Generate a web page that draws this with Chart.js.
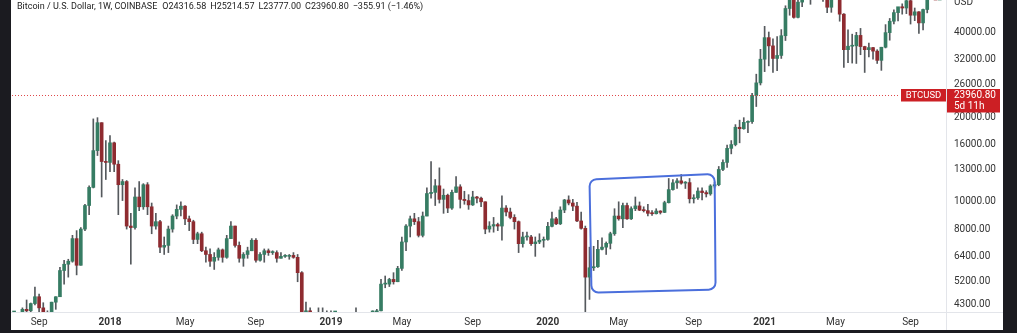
<!DOCTYPE html>
<html>
<head>
<meta charset="utf-8">
<title>BTCUSD 1W</title>
<script src="https://cdn.jsdelivr.net/npm/chart.js@4.4.1/dist/chart.umd.min.js"></script>
<style>
  html, body { margin: 0; padding: 0; background: #1b1b20; overflow: hidden; }
  #frame { position: absolute; left: 11px; top: 0; width: 992px; height: 330px; background: #fff; }
</style>
</head>
<body>
<div id="frame"><canvas id="btcChart"></canvas></div>
<script>
// weekly candles, Coinbase BTC/USD, first week starts 2017-07-24
const firstWeek = '2017-07-24';

const opens = [
  2750,2750,3400,4150,4100,4350,4600,4200,3700,3650,4400,4600,5700,6000,6150,7400,5950,8000,9700,11250,15200,19100,13900,
  13800,16200,13600,11500,11800,8200,8100,10400,9600,11500,9600,8200,8500,6900,7000,8000,8900,9400,9650,8700,8500,7350,7700,6700,6500,6150,6350,6750,6350,7400,8200,7000,6300,6500,6700,7300,6200,6500,6700,6600,6600,6300,6400,6400,6450,6350,5600,4000,4100,3500,3200,4000,
  3850,4000,3600,3600,3550,3400,3650,3600,3900,3850,3900,4000,4000,4100,5100,5100,5300,5200,5800,7200,8200,8700,8500,7600,8900,10700,10800,11400,10200,10550,9500,10800,11300,10200,10100,9750,10400,10300,10000,8000,8200,8300,8200,9500,9200,8800,8500,7100,7500,7500,7100,7200,7300,
  7350,8180,8700,8350,9350,10150,9900,9650,8550,8050,5400,5830,5880,6780,6900,7120,7700,8900,8700,9700,8700,9450,9670,9340,9300,9100,9070,9270,9170,9930,11050,11680,11870,11650,11700,10250,10330,10920,10780,10670,11380,11500,13030,13800,15480,15970,18400,18180,19150,19270,23850,26450,
  32100,38300,35800,32300,33100,38900,48600,57400,45200,51200,59000,57500,55800,58200,59800,56200,49100,56600,58200,46400,34700,35700,35800,39000,35600,34700,35300,34300,31800,35400,39900,43800,47000,49300,48800,51800,46000,47300,43200,48200,54900,61500,61300,61300
];
const highs = [
  2850,3450,4200,4480,4370,4980,4700,4380,4100,4400,4600,5850,6200,6250,7600,7900,8100,9800,11400,19700,19900,19100,16500,
  17200,16300,14000,12000,11900,9100,11200,11800,11600,11700,9900,9100,8600,7500,8200,9000,9750,9990,9700,8900,8600,7800,7800,6900,6800,6600,6850,6800,7600,8500,8200,7200,6600,6900,7400,7400,6600,6800,6800,6700,6700,6600,6500,6500,6600,6500,5650,4400,4200,3600,4200,4200,
  4100,4100,3800,3650,3600,3700,3700,4200,3900,3950,4050,4100,4150,5300,5450,5350,5600,5900,7500,8300,8900,9100,8800,9200,11200,13900,12000,13200,11100,10650,11000,12300,11500,10900,10600,10900,10450,10400,10000,8500,8800,8400,10500,9700,9500,9000,8550,7800,7800,7600,7500,7700,7500,
  8450,9200,8800,9600,10200,10500,10200,9950,9200,8200,6900,6950,7300,7450,7200,7800,9450,10000,9900,9900,9600,10400,9990,9600,9800,9300,9450,9300,10050,12100,12000,12100,12500,11800,12100,10600,11200,11200,10950,11500,11750,13350,14100,15900,16500,18800,19500,19900,19400,24300,28400,34800,
  42000,40100,37900,38600,40900,49700,58400,57500,52600,61800,60600,58500,60100,61200,64900,57000,57900,59500,59600,46600,40800,39400,40000,41300,35700,36600,35400,34700,35400,42600,44800,48100,49000,50500,52900,52900,48800,47400,48400,56000,62900,67000,63700,64300
];
const lows = [
  2450,2650,3350,3950,3950,4300,4000,2970,3500,3600,4150,4600,5100,5400,6100,5500,5950,7900,9000,11200,14600,10400,12000,
  12800,12800,9000,10100,8000,6000,8000,9300,9400,9000,7700,8000,6600,6500,6600,7800,8700,8900,8300,7900,7100,7100,6650,6100,5900,5750,6200,6100,6300,7400,6900,6100,5900,6300,6700,6100,6150,6100,6450,6500,6100,6300,6350,6250,6300,5200,3600,3700,3300,3200,3200,3600,
  3700,3500,3550,3500,3350,3400,3550,3600,3750,3700,3800,3950,3950,4100,4950,5000,5100,5200,5700,6700,7500,8300,7500,7500,8900,10300,9700,9900,9100,9150,9400,10800,9500,9800,9400,9700,9900,9600,7700,7800,7800,7900,7300,8900,8700,8000,6600,6900,7300,7000,6400,7100,6900,
  7300,8150,8300,8300,9150,9750,9300,8500,8000,3850,4500,5700,5850,6750,6500,6800,7600,8600,8100,8650,8650,9300,9300,9200,8900,8950,9050,9050,9150,9900,11000,11150,11550,11150,9900,9900,10200,10150,10400,10550,11200,11400,12900,13250,14800,15800,16200,18100,17600,19000,21800,26000,
  29000,30400,28800,29200,32300,37400,46000,44900,45000,49300,53600,50300,55300,55500,51500,47000,47100,52800,43800,30000,31200,31100,31000,33300,28800,32700,32100,31000,29300,35200,37500,42800,43900,46400,46600,42800,44000,39600,40800,46900,54000,59500,58000,59500
];
const closes = [
  2750,3400,4150,4100,4350,4600,4200,3700,3650,4400,4600,5700,6000,6150,7400,5950,8000,9700,11250,15200,19100,13900,13800,
  16200,13600,11500,11800,8200,8100,10400,9600,11500,9600,8200,8500,6900,7000,8000,8900,9400,9650,8700,8500,7350,7700,6700,6500,6150,6350,6750,6350,7400,8200,7000,6300,6500,6700,7300,6200,6500,6700,6600,6600,6300,6400,6400,6450,6350,5600,4000,4100,3500,3200,4000,3850,
  4000,3600,3600,3550,3400,3650,3600,3900,3850,3900,4000,4000,4100,5100,5100,5300,5200,5800,7200,8200,8700,8500,7600,8900,10700,10800,11400,10200,10550,9500,10800,11300,10200,10100,9750,10400,10300,10000,8000,8200,8300,8200,9500,9200,8800,8500,7100,7500,7500,7100,7200,7300,7350,
  8180,8700,8350,9350,10150,9900,9650,8550,8050,5400,5830,5880,6780,6900,7120,7700,8900,8700,9700,8700,9450,9670,9340,9300,9100,9070,9270,9170,9930,11050,11680,11870,11650,11700,10250,10330,10920,10780,10670,11380,11500,13030,13800,15480,15970,18400,18180,19150,19270,23850,26450,32100,
  38300,35800,32300,33100,38900,48600,57400,45200,51200,59000,57500,55800,58200,59800,56200,49100,56600,58200,46400,34700,35700,35800,39000,35600,34700,35300,34300,31800,35400,39900,43800,47000,49300,48800,51800,46000,47300,43200,48200,54900,61500,61300,61300,63300
];

// time axis labels (first weekly bar of the month)
const xTickWeeks = ['2017-09-04','2018-01-01','2018-05-07','2018-09-03','2019-01-07','2019-05-06','2019-09-02','2020-01-06','2020-05-04','2020-09-07','2021-01-04','2021-05-03','2021-09-06'];
const xTickText  = ['Sep','2018','May','Sep','2019','May','Sep','2020','May','Sep','2021','May','Sep'];

// price axis labels
const yTicks = [4300, 5200, 6400, 8000, 10000, 13000, 16000, 20000, 26000, 32000, 40000];
const yMin = 4060, yMax = 52100;

// header + last price
const symbolTitle = 'Bitcoin / U.S. Dollar, 1W, COINBASE';
const headerValues = ['O24316.58', 'H25214.57', 'L23777.00', 'C23960.80', '\u2212355.91 (\u22121.46%)'];
const lastPrice = 23960.80;
const countdown = '5d 11h';

// hand drawn box (weeks, prices at corners: top-left, top-right, bottom-right, bottom-left)
const boxWeeks = ['2020-03-16', '2020-10-12'];
const boxPrices = [12000, 12550, 4880, 4760];

const upColor = '#367c63', downColor = '#8e2b30', wickColor = '#55595d';
const red = '#cc1f24';
const fontFamily = 'Roboto, "Liberation Sans", sans-serif';

const weeks = [];
const start = new Date(firstWeek + 'T00:00:00Z');
for (let i = 0; i < closes.length; i++) {
  weeks.push(new Date(start.getTime() + i * 7 * 86400000).toISOString().slice(0, 10));
}

const bodies = opens.map((o, i) => [o, closes[i]]);
const wicks = lows.map((l, i) => [l, highs[i]]);
const bodyColors = opens.map((o, i) => closes[i] >= o ? upColor : downColor);

const overlay = {
  id: 'overlay',
  afterDraw(chart) {
    const {ctx, chartArea: a, scales: {x, y}, width, height} = chart;
    ctx.save();

    // blue hand drawn box
    const bx0 = x.getPixelForValue(weeks.indexOf(boxWeeks[0]));
    const bx1 = x.getPixelForValue(weeks.indexOf(boxWeeks[1]));
    const pts = [
      [bx0, y.getPixelForValue(boxPrices[0])],
      [bx1, y.getPixelForValue(boxPrices[1])],
      [bx1 + 1, y.getPixelForValue(boxPrices[2])],
      [bx0 + 2, y.getPixelForValue(boxPrices[3])]
    ];
    ctx.beginPath();
    ctx.moveTo((pts[0][0] + pts[1][0]) / 2, (pts[0][1] + pts[1][1]) / 2);
    for (let k = 1; k <= 4; k++) {
      const p = pts[k % 4], n = pts[(k + 1) % 4];
      ctx.arcTo(p[0], p[1], n[0], n[1], 7);
    }
    ctx.closePath();
    ctx.strokeStyle = '#4b6fdc';
    ctx.lineWidth = 2;
    ctx.stroke();

    // axis separators
    ctx.strokeStyle = '#e3e5ea';
    ctx.lineWidth = 1;
    ctx.beginPath();
    ctx.moveTo(0, Math.round(a.bottom) + 0.5);
    ctx.lineTo(width, Math.round(a.bottom) + 0.5);
    ctx.moveTo(Math.round(a.right) + 0.5, 0);
    ctx.lineTo(Math.round(a.right) + 0.5, height);
    ctx.stroke();

    // last price line and labels
    const py = Math.round(y.getPixelForValue(lastPrice)) + 0.5;
    ctx.strokeStyle = '#e0484b';
    ctx.setLineDash([1, 2]);
    ctx.beginPath();
    ctx.moveTo(a.left, py);
    ctx.lineTo(a.right - 46, py);
    ctx.stroke();
    ctx.setLineDash([]);

    ctx.fillStyle = red;
    ctx.fillRect(a.right - 45, py - 6.5, 45, 12.5);
    ctx.fillRect(a.right + 1, py - 6.5, 53, 23.5);
    ctx.fillStyle = '#fff';
    ctx.font = '9.5px ' + fontFamily;
    ctx.textBaseline = 'middle';
    ctx.textAlign = 'center';
    ctx.fillText('BTCUSD', a.right - 22.5, py);
    ctx.textAlign = 'left';
    ctx.font = '10px ' + fontFamily;
    ctx.fillText(lastPrice.toFixed(2), a.right + 8, py);
    ctx.fillText(countdown, a.right + 8, py + 10.5);

    // currency on the price axis
    ctx.fillStyle = '#333';
    ctx.textBaseline = 'alphabetic';
    ctx.fillText('USD', a.right + 8, 5);

    // legend header
    ctx.font = '9px ' + fontFamily;
    ctx.fillStyle = '#222';
    let tx = 6;
    ctx.fillText(symbolTitle, tx, 8.5);
    tx += ctx.measureText(symbolTitle).width + 5;
    headerValues.forEach(s => {
      ctx.fillText(s, tx, 8.5);
      tx += ctx.measureText(s).width + 4;
    });
    ctx.restore();
  }
};

new Chart(document.getElementById('btcChart'), {
  type: 'bar',
  data: {
    labels: weeks,
    datasets: [
      {
        label: 'body',
        data: bodies,
        backgroundColor: bodyColors,
        barThickness: 3,
        minBarLength: 1,
        grouped: false,
        order: 0
      },
      {
        label: 'wick',
        data: wicks,
        backgroundColor: wickColor,
        barThickness: 1,
        grouped: false,
        order: 1
      }
    ]
  },
  options: {
    responsive: true,
    maintainAspectRatio: false,
    animation: false,
    layout: { padding: { left: 1, right: 0, top: 0, bottom: 0 } },
    plugins: { legend: { display: false }, tooltip: { enabled: false } },
    scales: {
      x: {
        type: 'category',
        offset: true,
        grid: { display: false, drawTicks: false },
        border: { display: false },
        ticks: {
          autoSkip: false,
          maxRotation: 0,
          padding: 4,
          color: '#333',
          font: ctx => ({ family: fontFamily, size: 10, weight: /^\d{4}$/.test(ctx.tick && ctx.tick.label) ? 'bold' : 'normal' }),
          callback: (val, i) => {
            const k = xTickWeeks.indexOf(weeks[i]);
            return k >= 0 ? xTickText[k] : null;
          }
        },
        afterFit: s => { s.height = 18; s.paddingLeft = 0; s.paddingRight = 0; }
      },
      y: {
        type: 'logarithmic',
        position: 'right',
        min: yMin,
        max: yMax,
        grid: { display: false, drawTicks: false },
        border: { display: false },
        ticks: {
          padding: 8,
          color: '#333',
          font: { family: fontFamily, size: 10 },
          callback: v => Number(v).toFixed(2)
        },
        afterBuildTicks: s => { s.ticks = yTicks.map(v => ({ value: v })); },
        afterFit: s => { s.width = 57; s.paddingTop = 0; s.paddingBottom = 0; }
      }
    }
  },
  plugins: [overlay]
});
</script>
</body>
</html>
